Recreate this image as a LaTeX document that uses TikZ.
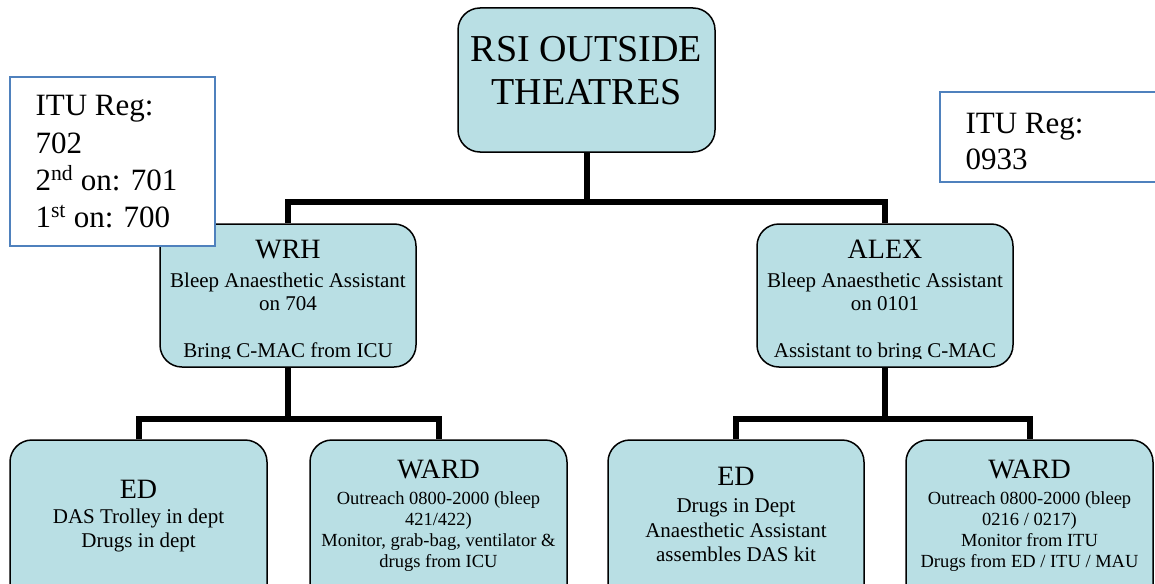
\documentclass[tikz,border=0pt]{standalone}
\usepackage{fontspec}
\setmainfont{Liberation Serif}
\definecolor{boxfill}{RGB}{185,223,228}
\definecolor{itublue}{RGB}{79,129,189}
\tikzset{
  orgbox/.style={draw=black, line width=1.5pt, fill=boxfill, rounded corners=22pt, inner sep=0pt},
  conn/.style={line width=6pt, draw=black},
  itubox/.style={draw=itublue, line width=2.2pt, fill=white, inner sep=0pt},
  big/.style={font=\fontsize{38}{43}\selectfont},
  ttl/.style={font=\fontsize{28}{32}\selectfont, anchor=base},
  med/.style={font=\fontsize{21}{25}\selectfont, anchor=base},
  sml/.style={font=\fontsize{18.5}{21}\selectfont, anchor=base},
  itu/.style={font=\fontsize{31}{37}\selectfont, anchor=base west},
}
\begin{document}
\begin{tikzpicture}[x=1pt,y=1pt]
\useasboundingbox (0,0) rectangle (1155,-583);
\clip (0,0) rectangle (1155,-583);
% boxes
\node[orgbox, minimum width=257pt, minimum height=144pt] (top) at (586.5,-80) {};
\node[orgbox, minimum width=256pt, minimum height=143pt] (wrh) at (288,-295.5) {};
\node[orgbox, minimum width=256pt, minimum height=143pt] (alex) at (885,-295.5) {};
\node[orgbox, minimum width=257pt, minimum height=170pt] (ed1) at (138.5,-525) {};
\node[orgbox, minimum width=257pt, minimum height=170pt] (ward1) at (438.5,-525) {};
\node[orgbox, minimum width=256pt, minimum height=170pt] (ed2) at (736,-525) {};
\node[orgbox, minimum width=247pt, minimum height=170pt] (ward2) at (1029.5,-525) {};
% connectors
\draw[conn] (top.south) -- ++(0,-49) coordinate (jt);
\draw[conn] (wrh.north) |- (jt) -| (alex.north);
\draw[conn] (wrh.south) -- ++(0,-51) coordinate (jl);
\draw[conn] (ed1.north) |- (jl) -| (ward1.north);
\draw[conn] (alex.south) -- ++(0,-51) coordinate (jr);
\draw[conn] (ed2.north) |- (jr) -| (ward2.north);
% top text
\node[big, anchor=base] (t1) at (586.5,-62) {RSI OUTSIDE};
\node[big, anchor=base] (t2) at (586.5,-105) {THEATRES};
% WRH
\node[ttl] (w1) at (288,-258) {WRH};
\node[med] (w2) at (288,-287) {Bleep Anaesthetic Assistant};
\node[med] (w3) at (288,-310) {on 704};
\begin{scope}
\clip (160,-200) rectangle (416,-358.5);
\node[med] (w4) at (288,-357.5) {Bring C-MAC from ICU};
\end{scope}
% ALEX
\node[ttl] (a1) at (885,-258) {ALEX};
\node[med] (a2) at (885,-287) {Bleep Anaesthetic Assistant};
\node[med] (a3) at (885,-310) {on 0101};
\begin{scope}
\clip (757,-200) rectangle (1013,-358.5);
\node[med] (a4) at (885,-357.5) {Assistant to bring C-MAC};
\end{scope}
% ED1
\node[ttl] (e1) at (138.5,-498) {ED};
\node[med] (e2) at (138.5,-523) {DAS Trolley in dept};
\node[med] (e3) at (138.5,-547) {Drugs in dept};
% WARD1
\node[ttl] (r1) at (438.5,-478) {WARD};
\node[sml] (r2) at (438.5,-504) {Outreach 0800-2000 (bleep};
\node[sml] (r3) at (438.5,-525) {421/422)};
\node[sml] (r4) at (438.5,-546) {Monitor, grab-bag, ventilator \&};
\node[sml] (r5) at (438.5,-567) {drugs from ICU};
% ED2
\node[ttl] (f1) at (736,-485) {ED};
\node[med] (f2) at (736,-512) {Drugs in Dept};
\node[med] (f3) at (736,-537) {Anaesthetic Assistant};
\node[med] (f4) at (736,-561) {assembles DAS kit};
% WARD2
\node[ttl] (s1) at (1029.5,-478) {WARD};
\node[sml] (s2) at (1029.5,-504) {Outreach 0800-2000 (bleep};
\node[sml] (s3) at (1029.5,-525) {0216 / 0217)};
\node[sml] (s4) at (1029.5,-546) {Monitor from ITU};
\node[sml] (s5) at (1029.5,-567) {Drugs from ED / ITU / MAU};
% ITU boxes
\node[itubox, minimum width=205pt, minimum height=169pt] (itul) at (112.5,-161.5) {};
\node[itu] (il1) at (32,-116) {ITU Reg:};
\node[itu] (il2) at (32,-153) {702};
\node[itu] (il3) at (32,-190) {2\textsuperscript{nd} on: 701};
\node[itu] (il4) at (32,-227) {1\textsuperscript{st} on: 700};
\node[itubox, minimum width=240pt, minimum height=90pt] (itur) at (1060,-137) {};
\node[itu] (ir1) at (962,-133) {ITU Reg:};
\node[itu] (ir2) at (962,-169) {0933};
\end{tikzpicture}
\end{document}
